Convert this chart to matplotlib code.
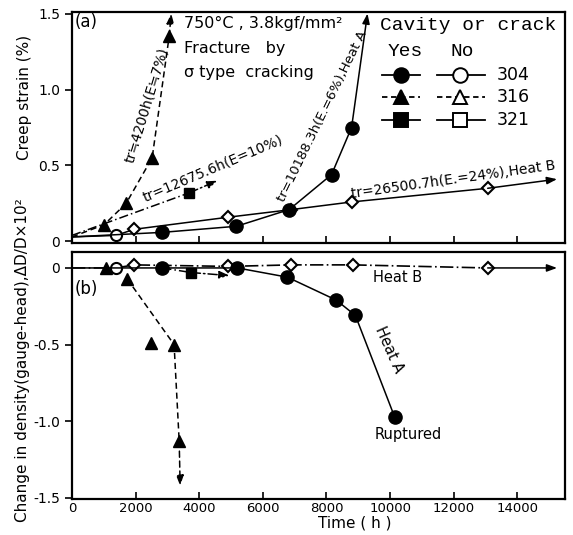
import matplotlib
matplotlib.use("Agg")
import matplotlib.pyplot as plt
from matplotlib.lines import Line2D

plt.rcParams['font.family'] = ['DejaVu Sans']

# ---------------- data: (a) creep strain ----------------
a316_t = [0, 1008, 1700, 2520, 3055]
a316_e = [0.03, 0.11, 0.25, 0.55, 1.35]
a316_end = (3120, 1.5)

a321_t = [0, 3685]
a321_e = [0.04, 0.32]
a321_end = (4570, 0.40)

a304A_t = [0, 2840, 5170, 6830, 8160, 8790]
a304A_e = [0.03, 0.06, 0.10, 0.21, 0.44, 0.75]
a304A_end = (9290, 1.5)

a304B_t = [0, 1385, 1950, 4920, 6900, 8790, 13070]
a304B_e = [0.03, 0.04, 0.08, 0.16, 0.21, 0.26, 0.35]
a304B_end = (15250, 0.41)

# ---------------- data: (b) change in density ----------------
b316_t = [1070, 1730, 2490, 3210, 3370]
b316_d = [0.0, -0.07, -0.49, -0.50, -1.13]
b316_curve_t = [1730, 3210, 3370]
b316_curve_d = [-0.07, -0.50, -1.13]
b316_end = (3400, -1.42)

b321_t = [2840, 3750]
b321_d = [0.0, -0.03]
b321_end = (4950, -0.05)

b304A_t = [0, 2840, 5200, 6770, 8310, 8910, 10140]
b304A_d = [0.0, 0.0, 0.0, -0.06, -0.21, -0.31, -0.97]

b304B_t = [0, 1385, 1950, 4910, 6900, 8820, 13070]
b304B_d = [0.0, 0.0, 0.02, 0.01, 0.02, 0.02, 0.0]
b304B_end = (15250, 0.0)

xticks = [0, 2000, 4000, 6000, 8000, 10000, 12000, 14000]
a_yticks = [0, 0.5, 1.0, 1.5]
a_ytlabels = ['0', '0.5', '1.0', '1.5']
b_yticks = [0, -0.5, -1.0, -1.5]
b_ytlabels = ['0', '-0.5', '-1.0', '-1.5']

W, H = 573, 535
fig = plt.figure(figsize=(W / 100, H / 100), dpi=100)


def px_axes(l, t, r, b):
    return fig.add_axes([l / W, 1 - b / H, (r - l) / W, (b - t) / H])


axA = px_axes(72, 12, 565, 243)
axB = px_axes(72, 252, 565, 499)

K = 'black'
ms = 9


def arrow(ax, start, end, ls='-'):
    ax.annotate('', xy=end, xytext=start,
                arrowprops=dict(arrowstyle='-|>,head_length=0.6,head_width=0.22',
                                color=K, lw=1.1, linestyle=ls, shrinkA=0, shrinkB=0))


# ---------- panel (a) ----------
axA.plot(a316_t, a316_e, ls=(0, (4, 2.5)), color=K, lw=1.1, marker='^', ms=ms, mfc=K, mec=K, markevery=list(range(1, len(a316_t))))
arrow(axA, (a316_t[-1], a316_e[-1]), a316_end, ls=(0, (4, 2.5)))
axA.plot(a321_t, a321_e, ls=(0, (6, 2, 1, 2)), color=K, lw=1.1, marker='s', ms=ms - 1.5, mfc=K, mec=K, markevery=[1])
arrow(axA, (a321_t[-1], a321_e[-1]), a321_end, ls=(0, (6, 2, 1, 2)))
axA.plot(a304B_t, a304B_e, ls='-', color=K, lw=1.1, marker='D', ms=6.5, mfc='white', mec=K, mew=1.5, markevery=list(range(2, len(a304B_t))))
axA.plot(a304B_t[1], a304B_e[1], marker='o', ms=8, mfc='white', mec=K, mew=1.5)
arrow(axA, (a304B_t[-1], a304B_e[-1]), a304B_end)
axA.plot(a304A_t, a304A_e, ls='-', color=K, lw=1.1, marker='o', ms=ms + 0.5, mfc=K, mec=K, markevery=list(range(1, len(a304A_t))))
arrow(axA, (a304A_t[-1], a304A_e[-1]), a304A_end)

axA.set_xlim(0, 15500)
axA.set_ylim(-0.01, 1.51)
axA.set_xticks(xticks)
axA.set_xticklabels([])
axA.set_yticks(a_yticks)
axA.set_yticklabels(a_ytlabels)
axA.tick_params(axis='x', direction='in', length=5, width=1.2)
axA.tick_params(axis='y', direction='out', length=5, width=1.2, labelsize=10)
axA.set_ylabel('Creep strain (%)', fontsize=11)
axA.yaxis.set_label_coords(-40 / 493, (243 - 97) / 231)


def tA(px, py, s, **kw):
    axA.text((px - 72) / 493, (243 - py) / 231, s, transform=axA.transAxes, **kw)


tA(75, 22, '(a)', fontsize=12, va='center', ha='left')
tA(184, 23, '750°C , 3.8kgf/mm²', fontsize=11.5, va='center', ha='left')
tA(184, 48, 'Fracture   by', fontsize=11.5, va='center', ha='left')
tA(184, 72, 'σ type  cracking', fontsize=11.5, va='center', ha='left')
tA(147, 105, 'tr≒4200h(E≒7%)', fontsize=10, rotation=73, ha='center', va='center')
tA(213, 168, 'tr=12675.6h(E=10%)', fontsize=10, rotation=23, ha='center', va='center')
tA(322, 116, 'tr=10188.3h(E.=6%),Heat A', fontsize=9.5, rotation=64, ha='center', va='center')
tA(453, 180, 'tr=26500.7h(E.=24%),Heat B', fontsize=10, rotation=8, ha='center', va='center')

mono = ['Liberation Mono', 'DejaVu Sans Mono']
tA(468, 26, 'Cavity or crack', fontsize=14, family=mono, ha='center', va='center')
tA(405, 51, 'Yes', fontsize=14, family=mono, ha='center', va='center')
tA(462, 51, 'No', fontsize=14, family=mono, ha='center', va='center')

leg_rows = [('304', 'o', '-', 75), ('316', '^', (0, (3, 2)), 97), ('321', 's', '-', 120)]
for lab, mk, ls, py in leg_rows:
    yy = (243 - py) / 231
    for x0, x1, xm, fc in [(382, 420, 401, K), (437, 485, 460, 'white')]:
        axA.add_line(Line2D([(x0 - 72) / 493, (x1 - 72) / 493], [yy, yy], transform=axA.transAxes,
                            color=K, lw=1.3, ls=ls))
        axA.add_line(Line2D([(xm - 72) / 493], [yy], transform=axA.transAxes, marker=mk,
                            ms=10.5 if mk != 's' else 9.5, mfc=fc, mec=K, mew=1.4, ls='none'))
    tA(497, py, lab, fontsize=12.5, ha='left', va='center')

# ---------- panel (b) ----------
axB.plot(b304B_t, b304B_d, ls=(0, (8, 2, 1, 2)), color=K, lw=1.2, marker='D', ms=6.5, mfc='white', mec=K, mew=1.5, markevery=list(range(2, len(b304B_t))))
axB.plot(b304B_t[1], b304B_d[1], marker='o', ms=8, mfc='white', mec=K, mew=1.5)
arrow(axB, (b304B_t[-1], b304B_d[-1]), b304B_end)
axB.plot(b304A_t, b304A_d, ls='-', color=K, lw=1.1, marker='o', ms=ms + 0.5, mfc=K, mec=K, markevery=list(range(1, len(b304A_t))))
axB.plot(b321_t, b321_d, ls=(0, (6, 2, 1, 2)), color=K, lw=1.1)
axB.plot(b321_t[1], b321_d[1], marker='s', ms=ms - 1.5, mfc=K, mec=K)
arrow(axB, (b321_t[-1], b321_d[-1]), b321_end, ls=(0, (6, 2, 1, 2)))
axB.plot(b316_curve_t, b316_curve_d, ls=(0, (4, 2.5)), color=K, lw=1.1)
arrow(axB, (b316_curve_t[-1], b316_curve_d[-1]), b316_end, ls=(0, (4, 2.5)))
axB.plot(b316_t, b316_d, ls='none', marker='^', ms=ms, mfc=K, mec=K)

axB.set_xlim(0, 15500)
axB.set_ylim(-1.507, 0.104)
axB.set_xticks(xticks)
axB.set_xticklabels([str(v) for v in xticks])
axB.set_yticks(b_yticks)
axB.set_yticklabels(b_ytlabels)
axB.tick_params(axis='x', direction='in', length=5, width=1.2, labelsize=9.5, pad=2)
axB.tick_params(axis='y', direction='out', length=5, width=1.2, labelsize=10)
axB.set_xlabel('Time ( h )', fontsize=11)
axB.xaxis.set_label_coords((355 - 72) / 493, -(516 - 499) / 247)
axB.set_ylabel('Change in density(gauge-head),ΔD/D×10²', fontsize=11)
axB.yaxis.set_label_coords(-42 / 493, (499 - 360) / 247)


def tB(px, py, s, **kw):
    axB.text((px - 72) / 493, (499 - py) / 247, s, transform=axB.transAxes, **kw)


tB(75, 289, '(b)', fontsize=12, ha='left', va='center')
tB(398, 278, 'Heat B', fontsize=10.5, ha='center', va='center')
tB(389, 350, 'Heat A', fontsize=10.5, ha='center', va='center', rotation=-66)
tB(408, 435, 'Ruptured', fontsize=10.5, ha='center', va='center')

for ax in (axA, axB):
    for sp in ax.spines.values():
        sp.set_linewidth(1.6)

fig.savefig('out.png', dpi=100)
